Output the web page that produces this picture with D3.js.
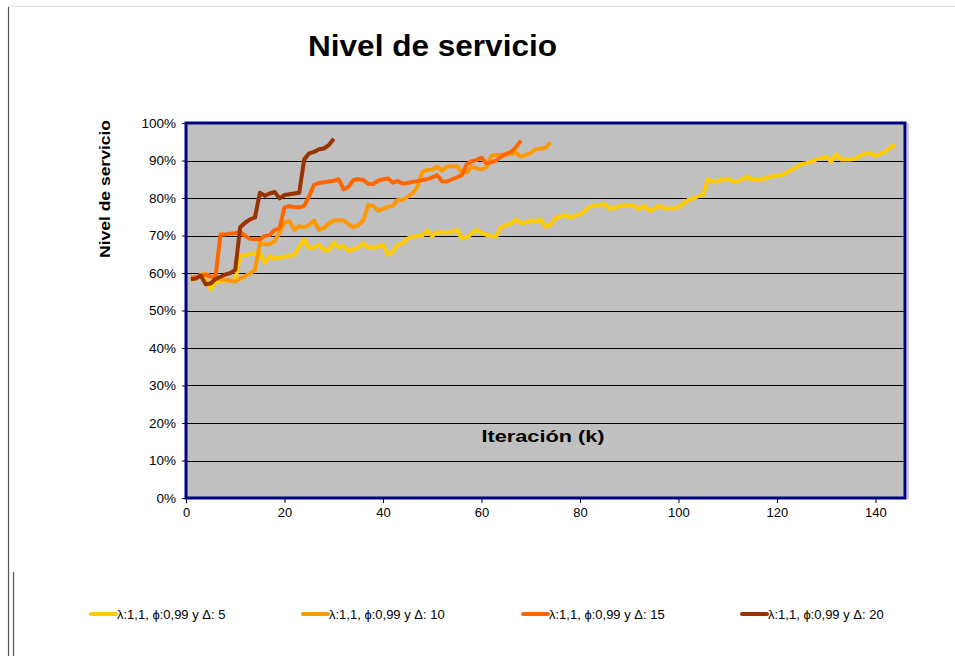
<!DOCTYPE html>
<html>
<head>
<meta charset="utf-8">
<script src="https://cdn.jsdelivr.net/npm/d3@7"></script>
<style>
  body { margin: 0; background: #fff; }
  svg { display: block; font-family: "Liberation Sans", Arial, sans-serif; }
</style>
</head>
<body>
<script>
// chart size
var width = 955,
    height = 656;

// series names (legend labels) and colours
var seriesNames = ['λ:1,1, ϕ:0,99 y Δ: 5', 'λ:1,1, ϕ:0,99 y Δ: 10', 'λ:1,1, ϕ:0,99 y Δ: 15', 'λ:1,1, ϕ:0,99 y Δ: 20'];
var seriesColors = ['#FFCC00', '#FF9900', '#FF6600', '#993300'];

// nivel de servicio (%) per iteration k, starting at k = 1
var delta5 = [
  58.0, 58.5, 59.0, 58.2, 55.7, 57.5, 57.8, 58.0, 58.0, 57.9,
  64.8, 64.8, 65.0, 65.1, 65.4, 62.7, 64.5, 63.8, 64.1, 64.4,
  64.6, 64.8, 67.0, 69.0, 66.6, 66.8, 67.5, 66.1, 66.1, 68.1,
  66.8, 67.2, 65.9, 66.3, 66.8, 67.9, 66.8, 66.8, 67.0, 67.5,
  64.8, 65.7, 67.5, 67.9, 69.2, 69.7, 69.8, 70.0, 71.3, 69.9,
  70.8, 70.8, 70.8, 71.0, 71.5, 69.2, 69.5, 70.5, 71.6, 70.6,
  70.2, 69.9, 69.7, 72.2, 72.8, 73.1, 74.3, 73.2, 73.5, 74.0,
  73.7, 74.3, 72.3, 72.8, 74.6, 75.0, 75.5, 74.8, 75.2, 75.7,
  76.5, 77.7, 78.0, 78.1, 78.4, 77.1, 77.4, 77.8, 78.0, 78.0,
  77.9, 77.0, 78.0, 76.6, 77.0, 78.0, 77.2, 77.2, 77.2, 77.5,
  78.5, 79.5, 79.9, 80.5, 80.8, 85.0, 84.4, 84.5, 85.0, 85.1,
  84.4, 84.5, 85.0, 85.7, 84.8, 84.8, 85.0, 85.4, 85.8, 86.0,
  86.1, 86.8, 87.5, 88.3, 89.1, 89.3, 89.7, 90.3, 90.6, 91.0,
  89.7, 91.6, 90.3, 90.3, 90.3, 90.4, 91.5, 91.7, 91.9, 91.2,
  91.8, 92.3, 93.5, 94.1
];
var delta10 = [
  58.5, 58.8, 59.5, 59.8, 59.0, 58.5, 58.3, 58.2, 58.0, 57.7,
  58.5, 59.2, 59.9, 60.8, 67.9, 67.7, 67.7, 68.5, 70.8, 73.5,
  73.8, 71.5, 72.5, 72.2, 72.8, 74.0, 71.5, 72.0, 73.2, 74.0,
  74.1, 74.0, 73.0, 72.2, 72.8, 74.0, 78.1, 77.9, 76.6, 77.1,
  77.7, 77.9, 79.5, 79.5, 80.3, 81.2, 83.0, 87.0, 87.5, 87.6,
  88.4, 87.3, 88.4, 88.5, 88.5, 87.0, 86.8, 88.4, 87.9, 87.6,
  88.2, 91.2, 91.5, 91.5, 91.6, 91.7, 92.1, 91.0, 91.5, 92.0,
  93.0, 93.2, 93.4, 94.8
];
var delta15 = [
  58.8, 58.8, 59.3, 59.5, 59.0, 59.0, 70.3, 70.3, 70.5, 70.6,
  71.0, 69.9, 69.1, 69.0, 69.0, 69.9, 70.1, 71.5, 71.9, 77.5,
  77.8, 77.6, 77.5, 77.9, 80.5, 83.5, 84.0, 84.2, 84.4, 84.6,
  85.0, 82.3, 83.0, 84.8, 85.0, 84.8, 83.8, 83.7, 84.6, 85.0,
  85.2, 84.1, 84.5, 83.8, 84.0, 84.3, 84.5, 84.8, 85.0, 85.5,
  86.1, 84.4, 84.4, 85.0, 85.5, 86.1, 89.0, 89.8, 90.1, 90.8,
  89.2, 89.5, 90.0, 91.0, 91.8, 92.3, 93.5, 95.3
];
var delta20 = [
  58.3, 58.5, 59.3, 57.0, 57.2, 58.4, 59.0, 59.6, 60.0, 60.8,
  72.2, 73.4, 74.3, 74.8, 81.4, 80.6, 81.2, 81.6, 79.9, 80.8,
  81.0, 81.2, 81.4, 90.3, 91.9, 92.3, 93.0, 93.2, 94.1, 95.8
];

var allSeries = [delta5, delta10, delta15, delta20];

// axis ticks
var xTicks = [0, 20, 40, 60, 80, 100, 120, 140];
var yTicks = [0, 10, 20, 30, 40, 50, 60, 70, 80, 90, 100];

// plot area
var plot = { left: 186, top: 123, right: 905, bottom: 498 };

var svg = d3.select('body')
  .append('svg')
  .attr('width', width)
  .attr('height', height);

// page frame lines (as in the source document)
svg.append('line')
  .attr('x1', 8).attr('x2', width).attr('y1', 6.5).attr('y2', 6.5)
  .attr('stroke', '#e4e4e4');
svg.append('line')
  .attr('x1', 8.5).attr('x2', 8.5).attr('y1', 7).attr('y2', height)
  .attr('stroke', '#555').attr('stroke-width', 1.2);
svg.append('line')
  .attr('x1', 13.5).attr('x2', 13.5).attr('y1', 572).attr('y2', height)
  .attr('stroke', '#555').attr('stroke-width', 1.2);

// scales
var x = d3.scaleLinear().domain([0, 146]).range([plot.left, plot.right]);
var y = d3.scaleLinear().domain([0, 100]).range([plot.bottom, plot.top]);

// grey plot background
svg.append('rect')
  .attr('x', plot.left)
  .attr('y', plot.top)
  .attr('width', plot.right - plot.left)
  .attr('height', plot.bottom - plot.top)
  .attr('fill', '#C0C0C0');

// horizontal gridlines
svg.append('g')
  .selectAll('line')
  .data(yTicks.slice(1, -1))
  .enter()
  .append('line')
  .attr('x1', plot.left)
  .attr('x2', plot.right)
  .attr('y1', function(d) { return Math.round(y(d)) + 0.5; })
  .attr('y2', function(d) { return Math.round(y(d)) + 0.5; })
  .attr('stroke', '#000')
  .attr('stroke-width', 1);

// y axis
var yAxis = svg.append('g')
  .attr('transform', 'translate(' + plot.left + ',0)')
  .call(d3.axisLeft(y)
    .tickValues(yTicks)
    .tickSize(4)
    .tickPadding(6)
    .tickFormat(function(d) { return d + '%'; }));
yAxis.select('.domain').remove();
yAxis.selectAll('text')
  .attr('font-size', 13.5)
  .attr('font-family', '"Liberation Sans", Arial, sans-serif')
  .attr('fill', '#000');

// x axis
var xAxis = svg.append('g')
  .attr('transform', 'translate(0,' + plot.bottom + ')')
  .call(d3.axisBottom(x)
    .tickValues(xTicks)
    .tickSize(5)
    .tickPadding(5));
xAxis.select('.domain').remove();
xAxis.selectAll('text')
  .attr('font-size', 13)
  .attr('font-family', '"Liberation Sans", Arial, sans-serif')
  .attr('fill', '#000');

// series lines
var line = d3.line()
  .x(function(d, i) { return x(i + 1); })
  .y(function(d) { return y(d); });

svg.append('g')
  .selectAll('path')
  .data(allSeries)
  .enter()
  .append('path')
  .attr('d', line)
  .attr('fill', 'none')
  .attr('stroke', function(d, i) { return seriesColors[i]; })
  .attr('stroke-width', 4)
  .attr('stroke-linejoin', 'round');

// navy frame of plot area, with a faint shadow on the right
svg.append('line')
  .attr('x1', plot.right + 3).attr('x2', plot.right + 3)
  .attr('y1', plot.top).attr('y2', plot.bottom + 1)
  .attr('stroke', '#b8b8e0').attr('stroke-width', 1.5);
svg.append('rect')
  .attr('x', plot.left)
  .attr('y', plot.top)
  .attr('width', plot.right - plot.left)
  .attr('height', plot.bottom - plot.top)
  .attr('fill', 'none')
  .attr('stroke', '#000080')
  .attr('stroke-width', 3);

// titles (widths matched to the stretched rendering of the original)
svg.append('text')
  .attr('x', 432.5)
  .attr('y', 56)
  .attr('text-anchor', 'middle')
  .attr('font-size', 29)
  .attr('font-weight', 'bold')
  .attr('textLength', 249)
  .attr('lengthAdjust', 'spacingAndGlyphs')
  .text('Nivel de servicio');

svg.append('text')
  .attr('transform', 'translate(110,189) rotate(-90)')
  .attr('text-anchor', 'middle')
  .attr('font-size', 15.5)
  .attr('font-weight', 'bold')
  .attr('textLength', 138)
  .attr('lengthAdjust', 'spacingAndGlyphs')
  .text('Nivel de servicio');

svg.append('text')
  .attr('x', 543)
  .attr('y', 442)
  .attr('text-anchor', 'middle')
  .attr('font-size', 16)
  .attr('font-weight', 'bold')
  .attr('textLength', 123)
  .attr('lengthAdjust', 'spacingAndGlyphs')
  .text('Iteración (k)');

// legend
var legendX = [91, 303, 523, 742];
var legend = svg.append('g')
  .selectAll('g')
  .data(seriesNames)
  .enter()
  .append('g')
  .attr('transform', function(d, i) { return 'translate(' + legendX[i] + ',614)'; });

legend.append('line')
  .attr('x1', 0).attr('x2', 25)
  .attr('y1', 0).attr('y2', 0)
  .attr('stroke', function(d, i) { return seriesColors[i]; })
  .attr('stroke-width', 4)
  .attr('stroke-linecap', 'round');

legend.append('text')
  .attr('x', 26)
  .attr('y', 4.5)
  .attr('font-size', 13)
  .text(function(d) { return d; });
</script>
</body>
</html>
